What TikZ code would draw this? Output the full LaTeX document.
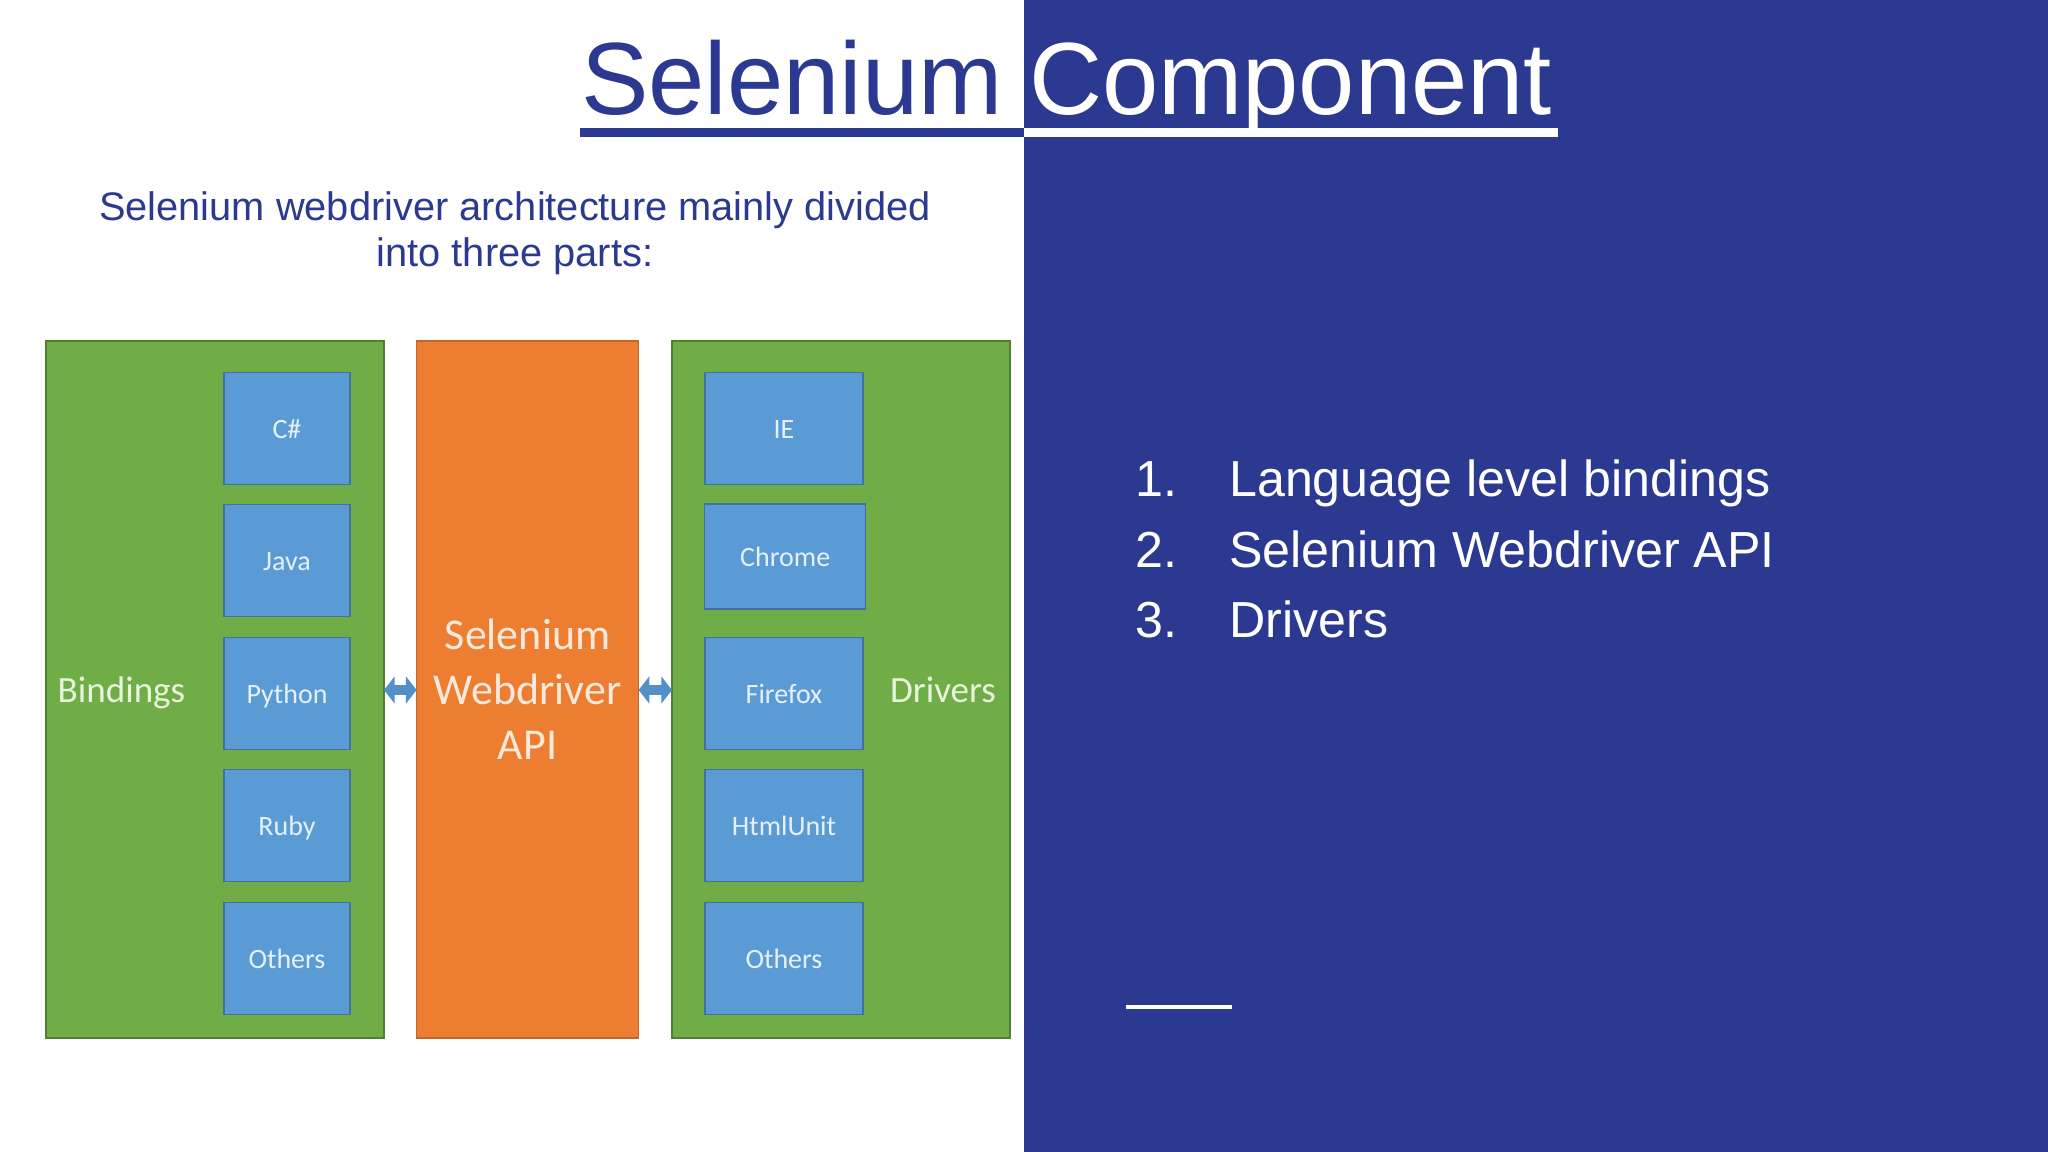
\documentclass[tikz,border=0pt]{standalone}
\usepackage{fontspec}
\setmainfont{Liberation Sans}
\newfontfamily\calib{Carlito}
\newfontfamily\titlefont[FakeStretch=0.985]{Liberation Sans}
\newfontfamily\listfont[FakeStretch=0.99]{Liberation Sans}
\usetikzlibrary{arrows.meta}
\definecolor{navy}{HTML}{2B3990}
\definecolor{gfill}{HTML}{70AD47}
\definecolor{gline}{HTML}{507E32}
\definecolor{ofill}{HTML}{ED7D31}
\definecolor{oline}{HTML}{C0672B}
\definecolor{bfill}{HTML}{5B9BD5}
\definecolor{bline}{HTML}{41719C}
\definecolor{barrow}{HTML}{5390CA}
\definecolor{ptext}{HTML}{FBE9DC}
\definecolor{gtext}{HTML}{E8F5DC}
\definecolor{btext}{HTML}{E6F0FA}
\tikzset{
  x=0.75pt,y=-0.75pt,
  block/.style={rectangle,inner sep=0pt,outer sep=0pt,line width=1pt},
  sized/.style 2 args={minimum width={#1*0.75pt},minimum height={#2*0.75pt}},
  greenbox/.style={block,draw=gline,fill=gfill},
  orangebox/.style={block,draw=oline,fill=ofill,text=ptext,align=center,
    font=\calib\fontsize{33}{41.2}\selectfont},
  bluebox/.style={block,draw=bline,fill=bfill,text=btext,text height=20pt,text depth=5pt,
    font=\calib\fontsize{21}{24}\selectfont},
  sidelabel/.style={text=gtext,inner sep=0pt,anchor=base,font=\calib\fontsize{27.8}{32}\selectfont},
  linkarrow/.style={draw=barrow,line width=7.5pt,{Triangle[length=8pt,width=20pt]}-{Triangle[length=8pt,width=20pt]},shorten <=0pt,shorten >=0pt},
  titletext/.style={inner sep=0pt,anchor=base west,font=\titlefont\fontsize{77}{90}\selectfont},
  subtext/.style={inner sep=0pt,text=navy,align=center,anchor=base,font=\fontsize{29.85}{34.5}\selectfont},
  listtext/.style={inner sep=0pt,text=white,anchor=base west,font=\listfont\fontsize{38}{44}\selectfont},
}
\begin{document}
\begin{tikzpicture}
\useasboundingbox (0,0) rectangle (2048,1152);
\fill[white] (0,0) rectangle (1024,1152);
\fill[navy] (1024,0) rectangle (2048,1152);
% title
\node[titletext,text=navy] (title1) at (581,115) {Selenium};
\node[titletext,text=white] (title2) at (1029,115) {Component};
\fill[navy] (580,128) rectangle (1024,137);
\fill[white] (1024,128) rectangle (1558,137);
% subtitle
\node[subtext] (sub) at (515,266) {Selenium webdriver architecture mainly divided\\into three parts:};
% big boxes
\node[greenbox,sized={338}{697}] (bind) at (215,689.5) {};
\node[orangebox,sized={222}{697}] (api) at (527.6,689.5) {Selenium\\Webdriver\\API};
\node[greenbox,sized={338}{697}] (driv) at (841,689.5) {};
\node[sidelabel] (bindl) at (121.5,702) {Bindings};
\node[sidelabel] (drivl) at (943,702) {Drivers};
% left column
\node[bluebox,sized={126}{112}] (b1) at (287,428.3) {C\#};
\node[bluebox,sized={126}{112}] (b2) at (287,560.3) {Java};
\node[bluebox,sized={126}{112}] (b3) at (287,693.5) {Python};
\node[bluebox,sized={126}{112}] (b4) at (287,825.3) {Ruby};
\node[bluebox,sized={126}{112}] (b5) at (287,958.5) {Others};
% right column
\node[bluebox,sized={158}{112}] (d1) at (784,428.3) {IE};
\node[bluebox,sized={161}{105}] (d2) at (785.2,556.5) {Chrome};
\node[bluebox,sized={158}{112}] (d3) at (784,693.5) {Firefox};
\node[bluebox,sized={158}{112}] (d4) at (784,825.3) {HtmlUnit};
\node[bluebox,sized={158}{112}] (d5) at (784,958.5) {Others};
% arrows
\coordinate (ay) at (0,690);
\draw[linkarrow] (bind.east |- ay) -- (api.west |- ay);
\draw[linkarrow] (api.east |- ay) -- (driv.west |- ay);
% list
\node[listtext] (n1) at (1135,496.5) {1.};
\node[listtext] (t1) at (1229,496.5) {Language level bindings};
\node[listtext] (n2) at (1135,567) {2.};
\node[listtext] (t2) at (1229,567) {Selenium Webdriver API};
\node[listtext] (n3) at (1135,637.5) {3.};
\node[listtext] (t3) at (1229,637.5) {Drivers};
\fill[white] (1126,1004.5) rectangle (1232,1008.5);
\end{tikzpicture}
\end{document}
